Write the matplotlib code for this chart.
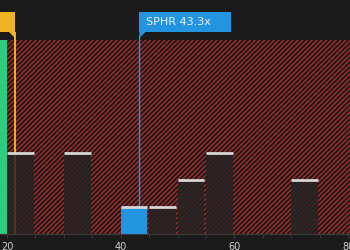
import numpy as np
import matplotlib
matplotlib.use('Agg')
import matplotlib.pyplot as plt
import matplotlib.transforms as mtransforms
from matplotlib.patches import Rectangle, Polygon

plt.rcParams['hatch.color'] = '#9c2a2a'
plt.rcParams['hatch.linewidth'] = 1.1

# histogram bins (left edges, width 5) and counts
bin_left = [15, 20, 25, 30, 35, 40, 45, 50, 55, 60, 65, 70, 75]
counts = [8, 3, 0, 3, 0, 1, 1, 2, 3, 0, 0, 2, 0]
bin_width = 5
company_bin = 40       # bin holding the company
market_bin = 15        # bin drawn in green
company_label = 'SPHR 43.3x'
company_value = 43.3
market_value = 21.4
xticks = [20, 40, 60, 80]
xlim = (18.77, 80.35)
ymax = 7.2

bg = '#1b1b1b'
green = '#2ecc7f'
yellow = '#f0b323'
blue = '#2394e0'

fig = plt.figure(figsize=(3.5, 2.5), dpi=100, facecolor=bg)
ax = fig.add_axes([0, 16 / 250, 1, 194 / 250])
ax.set_facecolor(bg)
ax.set_xlim(*xlim)
ax.set_ylim(0, ymax)

# hatched red zone across the whole plot
ax.add_patch(Rectangle((xlim[0], 0), xlim[1] - xlim[0], ymax, facecolor='none',
                       edgecolor='#9c2a2a', hatch='///////', linewidth=0, zorder=0))

# market marker line (yellow)
ax.vlines(market_value, 0, ymax, color=yellow, linewidth=1.4, zorder=1)

# bars
for left, c in zip(bin_left, counts):
    if c == 0:
        continue
    if left == market_bin:
        ax.bar(left, c, width=bin_width, align='edge', color=green, zorder=2)
        continue
    col = blue if left == company_bin else '#262323'
    alpha = 1 if left == company_bin else 0.85
    ax.bar(left, c, width=bin_width - 0.3, align='edge', color=col, alpha=alpha, zorder=2)
    ax.hlines(c, left, left + bin_width - 0.3, color='#d6d6d6', linewidth=2, zorder=3)

# company marker line (blue), down to its bar
company_count = counts[bin_left.index(company_bin)]
ax.vlines(company_value, company_count, ymax, color=blue, linewidth=1, zorder=1)
ax.vlines(company_value, ymax, ymax + 0.2, color=blue, linewidth=1, zorder=1, clip_on=False)

# labels above the plot
tr = mtransforms.blended_transform_factory(ax.transData, fig.transFigure)
px = (xlim[1] - xlim[0]) / 350
y_top = 1 - 12 / 250
y_bot = 1 - 32 / 250
y_tail = 1 - 38 / 250
ax.add_patch(Rectangle((company_value, y_bot), 92 * px, y_top - y_bot, transform=tr,
                       facecolor=blue, edgecolor='none', clip_on=False, zorder=5))
ax.add_patch(Polygon([(company_value, y_bot), (company_value + 6 * px, y_bot),
                      (company_value, y_tail)], closed=True, transform=tr,
                     facecolor=blue, edgecolor='none', clip_on=False, zorder=5))
ax.text(company_value + 7 * px, (y_top + y_bot) / 2, company_label, transform=tr,
        color='#e8f2ff', fontsize=8, va='center', ha='left', zorder=6)

ax.add_patch(Rectangle((market_value - 60 * px, y_bot), 60 * px, y_top - y_bot, transform=tr,
                       facecolor=yellow, edgecolor='none', clip_on=False, zorder=5))
ax.add_patch(Polygon([(market_value - 6 * px, y_bot), (market_value, y_bot),
                      (market_value, y_tail)], closed=True, transform=tr,
                     facecolor=yellow, edgecolor='none', clip_on=False, zorder=5))
ax.vlines(market_value, ymax, ymax + 0.3, color=yellow, linewidth=1.4, clip_on=False)

# axes styling
for s in ['top', 'left', 'right']:
    ax.spines[s].set_visible(False)
ax.spines['bottom'].set_color('#3a3a3a')
ax.set_yticks([])
ax.set_xticks(xticks)
ax.set_xticks(np.arange(20, 81, 5), minor=True)
ax.tick_params(axis='x', colors='#3a3a3a', labelcolor='#cfcfcf', labelsize=7, length=3, pad=3)
ax.tick_params(axis='x', which='minor', colors='#3a3a3a', length=3)

fig.savefig('out.png', dpi=100, facecolor=bg)
